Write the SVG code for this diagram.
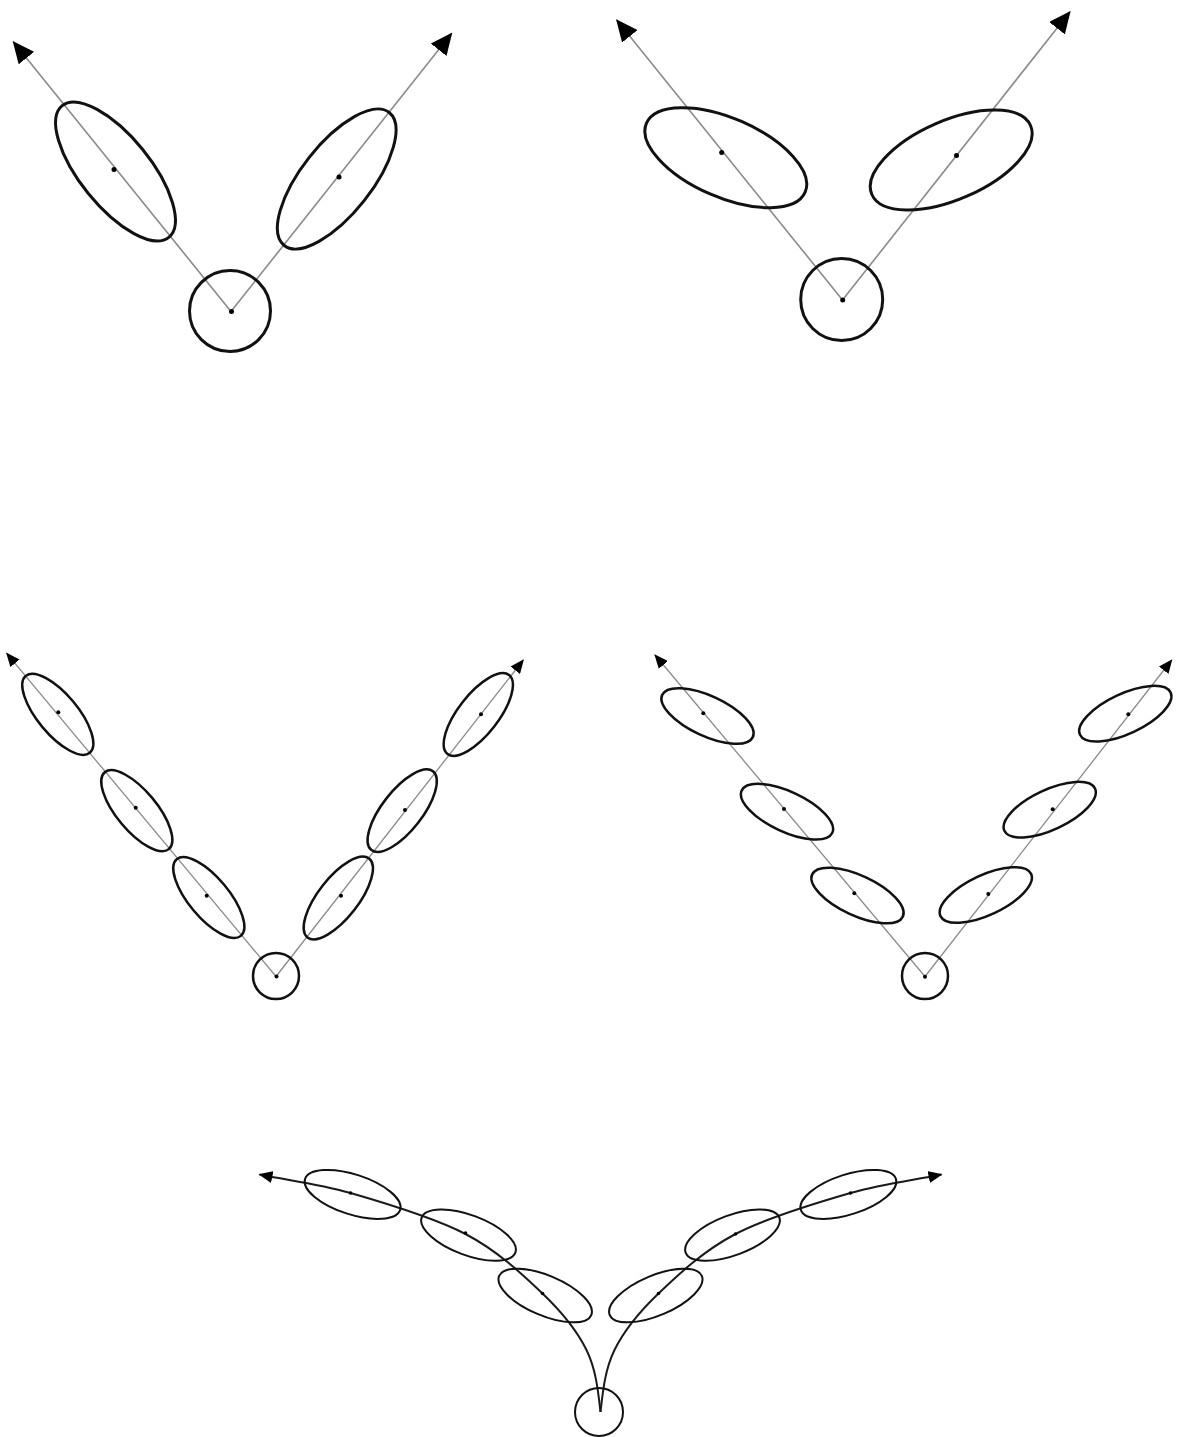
<svg xmlns="http://www.w3.org/2000/svg" width="1185" height="1437" viewBox="0 0 1185 1437">
<defs>
<style>
.ax{fill:none;stroke:#8a8a8a;stroke-width:1.6}
.ax2{fill:none;stroke:#8a8a8a;stroke-width:1.3}
.cv{fill:none;stroke:#1a1a1a;stroke-width:2}
.e1{fill:none;stroke:#111;stroke-width:3}
.e2{fill:none;stroke:#111;stroke-width:2.5}
.e3{fill:none;stroke:#111;stroke-width:2}
.d{fill:#000}
</style>
<marker id="ahBig" markerUnits="userSpaceOnUse" viewBox="0 0 22 20" markerWidth="22" markerHeight="20" refX="21" refY="10" orient="auto">
<path d="M0,0 L22,10 L0,20 z" fill="#000"/>
</marker>
<marker id="ahSmall" markerUnits="userSpaceOnUse" viewBox="0 0 14 12" markerWidth="14" markerHeight="12" refX="13" refY="6" orient="auto">
<path d="M0,0 L14,6 L0,12 z" fill="#000"/>
</marker>
</defs>
<rect width="1185" height="1437" fill="#fff"/>

<g id="connectors">
<line class="ax" x1="231" y1="311.5" x2="13.3" y2="41.7" marker-end="url(#ahBig)"/>
<line class="ax" x1="231" y1="311.5" x2="451.7" y2="33.3" marker-end="url(#ahBig)"/>
<line class="ax" x1="842.5" y1="300" x2="616.7" y2="20" marker-end="url(#ahBig)"/>
<line class="ax" x1="842.5" y1="300" x2="1070" y2="11.7" marker-end="url(#ahBig)"/>
<line class="ax2" x1="276" y1="976.5" x2="6.7" y2="653.3" marker-end="url(#ahSmall)"/>
<line class="ax2" x1="276" y1="976.5" x2="523.3" y2="660" marker-end="url(#ahSmall)"/>
<line class="ax2" x1="925" y1="976.5" x2="655" y2="655" marker-end="url(#ahSmall)"/>
<line class="ax2" x1="925" y1="976.5" x2="1171.7" y2="660" marker-end="url(#ahSmall)"/>
<path class="cv" d="M600.5,1412 C598.2,1392 596.2,1369.8 586.5,1350 C576.8,1330.3 562.7,1312.8 542.5,1293.5 C522.3,1274.2 497.5,1250.8 465.5,1234 C433.5,1217.3 384.8,1202.9 350.5,1193 C316.2,1183.1 289.8,1180.7 259.5,1174.5" marker-end="url(#ahSmall)"/>
<path class="cv" d="M600.5,1412 C602.8,1392 604.8,1369.8 614.5,1350 C624.2,1330.3 638.3,1312.8 658.5,1293.5 C678.7,1274.2 703.5,1250.8 735.5,1234 C767.5,1217.3 816.2,1202.9 850.5,1193 C884.8,1183.1 911.2,1180.7 941.5,1174.5" marker-end="url(#ahSmall)"/>
</g>

<!-- Panel 1: top left -->
<g id="p1-root"><circle class="e1" cx="230" cy="311" r="40.5"/><circle class="d" cx="231.5" cy="311.5" r="2.5"/></g>
<g id="p1-left"><ellipse class="e1" cx="115.5" cy="171.5" rx="84.7" ry="35" transform="rotate(51 115.5 171.5)"/><circle class="d" cx="114" cy="169.5" r="2.5"/></g>
<g id="p1-right"><ellipse class="e1" cx="336.7" cy="179" rx="84.7" ry="35" transform="rotate(-51.7 336.7 179)"/><circle class="d" cx="339" cy="177" r="2.5"/></g>

<!-- Panel 2: top right -->
<g id="p2-root"><circle class="e1" cx="841.7" cy="299.5" r="41"/><circle class="d" cx="842.7" cy="300" r="2.5"/></g>
<g id="p2-left"><ellipse class="e1" cx="725.8" cy="157.7" rx="86.5" ry="39.5" transform="rotate(23.5 725.8 157.7)"/><circle class="d" cx="721.7" cy="152.5" r="2.5"/></g>
<g id="p2-right"><ellipse class="e1" cx="951.2" cy="160" rx="86.5" ry="39.5" transform="rotate(-23.5 951.2 160)"/><circle class="d" cx="956.5" cy="155.5" r="2.5"/></g>

<!-- Panel 3: middle left -->
<g id="p3-root"><circle class="e2" cx="276" cy="976" r="23"/><circle class="d" cx="276.5" cy="976.5" r="2"/></g>
<g id="p3-l1"><ellipse class="e2" cx="57.8" cy="714.3" rx="50" ry="20" transform="rotate(50.2 57.8 714.3)"/><circle class="d" cx="58.3" cy="712.3" r="2"/></g>
<g id="p3-l2"><ellipse class="e2" cx="136.8" cy="810.7" rx="50" ry="20" transform="rotate(50.2 136.8 810.7)"/><circle class="d" cx="135.7" cy="807.7" r="2"/></g>
<g id="p3-l3"><ellipse class="e2" cx="208.8" cy="897.5" rx="50" ry="20" transform="rotate(50.2 208.8 897.5)"/><circle class="d" cx="206.7" cy="895.7" r="2"/></g>
<g id="p3-r1"><ellipse class="e2" cx="478.3" cy="714.5" rx="50" ry="20" transform="rotate(-52 478.3 714.5)"/><circle class="d" cx="481" cy="714.3" r="2"/></g>
<g id="p3-r2"><ellipse class="e2" cx="402.2" cy="810.7" rx="50" ry="20" transform="rotate(-52 402.2 810.7)"/><circle class="d" cx="405" cy="810" r="2"/></g>
<g id="p3-r3"><ellipse class="e2" cx="338.3" cy="898" rx="50" ry="20" transform="rotate(-52 338.3 898)"/><circle class="d" cx="341" cy="895.7" r="2"/></g>

<!-- Panel 4: middle right -->
<g id="p4-root"><circle class="e2" cx="925" cy="976" r="23"/><circle class="d" cx="925" cy="976.7" r="2"/></g>
<g id="p4-l1"><ellipse class="e2" cx="707.5" cy="716" rx="50" ry="20" transform="rotate(25 707.5 716)"/><circle class="d" cx="703.3" cy="713.3" r="2"/></g>
<g id="p4-l2"><ellipse class="e2" cx="787" cy="811.7" rx="50" ry="20" transform="rotate(25 787 811.7)"/><circle class="d" cx="784" cy="809" r="2"/></g>
<g id="p4-l3"><ellipse class="e2" cx="857.5" cy="895.5" rx="50" ry="20" transform="rotate(25 857.5 895.5)"/><circle class="d" cx="854.3" cy="893.3" r="2"/></g>
<g id="p4-r1"><ellipse class="e2" cx="1125.3" cy="713.7" rx="50" ry="20" transform="rotate(-25 1125.3 713.7)"/><circle class="d" cx="1128.3" cy="714.3" r="2"/></g>
<g id="p4-r2"><ellipse class="e2" cx="1049.7" cy="809.7" rx="50" ry="20" transform="rotate(-25 1049.7 809.7)"/><circle class="d" cx="1052.7" cy="809.3" r="2"/></g>
<g id="p4-r3"><ellipse class="e2" cx="985.8" cy="895" rx="50" ry="20" transform="rotate(-25 985.8 895)"/><circle class="d" cx="988.3" cy="894" r="2"/></g>

<!-- Panel 5: bottom -->
<g id="p5-root"><circle class="e3" cx="599" cy="1412" r="24"/></g>
<g id="p5-a"><ellipse class="e3" cx="352.6" cy="1194.4" rx="50" ry="20" transform="rotate(18 352.6 1194.4)"/><circle class="d" cx="350.5" cy="1193" r="1.8"/></g>
<g id="p5-b"><ellipse class="e3" cx="468.5" cy="1235.1" rx="50" ry="20" transform="rotate(20.5 468.5 1235.1)"/><circle class="d" cx="465.5" cy="1233" r="1.8"/></g>
<g id="p5-c"><ellipse class="e3" cx="545.2" cy="1295.5" rx="50" ry="20" transform="rotate(23 545.2 1295.5)"/><circle class="d" cx="542.5" cy="1293.5" r="1.8"/></g>
<g id="p5-d"><ellipse class="e3" cx="848.4" cy="1194.4" rx="50" ry="20" transform="rotate(-18 848.4 1194.4)"/><circle class="d" cx="850.5" cy="1193" r="1.8"/></g>
<g id="p5-e"><ellipse class="e3" cx="732.5" cy="1235.1" rx="50" ry="20" transform="rotate(-20.5 732.5 1235.1)"/><circle class="d" cx="735.5" cy="1234" r="1.8"/></g>
<g id="p5-f"><ellipse class="e3" cx="655.8" cy="1295.5" rx="50" ry="20" transform="rotate(-23 655.8 1295.5)"/><circle class="d" cx="658.5" cy="1293.5" r="1.8"/></g>
</svg>
